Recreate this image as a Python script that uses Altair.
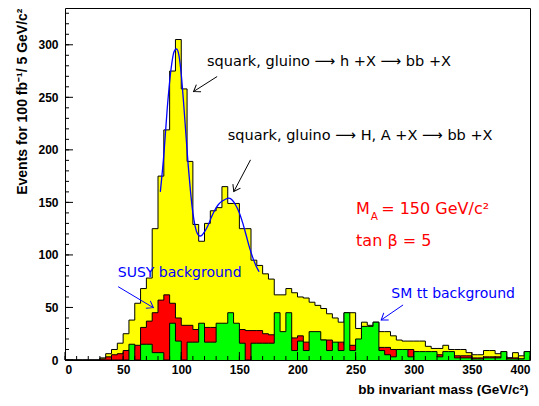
import altair as alt
import pandas as pd

# ---------------- data ----------------
bin_lo = list(range(0, 400, 5))

total = [0, 0, 0, 0, 0, 0, 2, 6, 10, 16,
         25, 38, 54, 68, 78, 125, 175, 219, 275, 305,
         258, 189, 129, 113, 130, 142, 145, 165, 149, 149,
         125, 125, 95, 90, 82, 77, 62, 62, 68, 64,
         60, 59, 55, 52, 49, 44, 40, 36, 45, 45,
         30, 36, 33, 36, 27, 27, 23, 19, 18, 18,
         18, 18, 13, 11, 11, 14, 10, 10, 10, 7,
         5, 5, 9, 9, 6, 8, 2, 7, 4, 8]

susy = [0, 0, 0, 0, 0, 0, 1, 3, 5, 6,
        9, 10, 14, 31, 37, 45, 57, 62, 54, 40,
        33, 33, 29, 31, 31, 31, 30, 30, 29, 28,
        29, 28, 28, 28, 25, 24, 24, 22, 22, 21,
        23, 17, 17, 16, 19, 19, 16, 17, 14, 14,
        14, 12, 12, 10, 12, 12, 10, 9, 9, 10,
        6, 5, 5, 5, 5, 5, 4, 4, 4, 4,
        2, 2, 3, 3, 3, 2, 2, 2, 1, 1]

smtt = [0, 0, 0, 0, 0, 0, 0, 0, 0, 0,
        0, 15, 0, 15, 15, 7, 7, 0, 35, 18,
        0, 17, 17, 35, 17, 17, 35, 35, 45, 35,
        16, 0, 16, 16, 16, 16, 45, 27, 45, 9,
        18, 9, 27, 27, 19, 9, 17, 9, 45, 9,
        20, 32, 32, 36, 9, 5, 3, 10, 10, 3,
        8, 8, 8, 8, 3, 8, 8, 2, 2, 2,
        1, 1, 2, 2, 2, 8, 1, 1, 1, 8]

fit_mass = [82, 85, 88, 91, 94, 96, 98, 100, 102, 104, 106, 108, 110, 112, 114,
            116, 118, 120, 123, 126, 129, 132, 135, 138, 141, 144, 147, 150,
            153, 156, 159, 162, 165, 167]
fit_val = [160, 195, 240, 275, 294, 296, 290, 272, 245, 215, 185, 160, 140, 127,
           120, 118, 119, 122, 128, 136, 143, 148, 151, 153, 154, 152, 147, 140,
           130, 118, 106, 96, 88, 84]

y_ticks_major = [0, 50, 100, 150, 200, 250, 300]
y_ticks_minor = list(range(0, 340, 10))
x_ticks_major = [0, 50, 100, 150, 200, 250, 300, 350, 400]
x_ticks_minor = list(range(0, 401, 10))

# annotations (left edge / baseline positions in data units)
ann_text = ["squark, gluino \u27f6 h +X \u27f6 bb +X",
            "squark, gluino \u27f6 H, A +X \u27f6 bb +X"]
ann_m = [122.2, 140.0]
ann_v = [280.1, 209.4]

bg_text = ["SUSY background", "SM tt background"]
bg_m = [45.4, 280.7]
bg_v = [79.0, 59.0]

arrow_tail_m = [130.9, 159.6, 45.7, 290.8]
arrow_tail_v = [269.8, 190.5, 69.8, 52.4]
arrow_tip_m = [110.6, 145.2, 76.0, 272.0]
arrow_tip_v = [255.5, 160.3, 49.8, 38.1]
arrow_color = ["black", "black", "#0000ff", "#0000ff"]
arrow_angle = [147, 118, 31, 145]

FONT = "Liberation Sans"
TFONT = "DejaVu Sans"

# ---------------- scales / helpers ----------------
xscale = alt.Scale(domain=[0, 400], nice=False, zero=False)
yscale = alt.Scale(domain=[0, 335], nice=False)

xaxis = alt.Axis(values=x_ticks_major, ticks=False, tickSize=0, domain=False, grid=False,
                 labelFont=FONT, labelFontWeight="bold", labelFontSize=12, labelColor="black",
                 labelPadding=4, format="d", labelFlush=True,
                 title="bb invariant mass (GeV/c\u00b2)", titleFont=FONT, titleFontWeight="bold",
                 titleFontSize=13.5, titleColor="black", titleAnchor="end", titleAlign="right",
                 titleX=463, titleY=33, titleBaseline="alphabetic")
yaxis = alt.Axis(values=y_ticks_major, ticks=False, tickSize=0, domain=False, grid=False,
                 labelFont=FONT, labelFontWeight="bold", labelFontSize=12, labelColor="black",
                 labelPadding=7, format="d",
                 title="Events for 100 fb\u207b\u00b9/ 5 GeV/c\u00b2", titleFont=FONT,
                 titleFontWeight="bold", titleFontSize=14, titleColor="black",
                 titleAngle=270, titleAlign="right", titleBaseline="middle",
                 titleX=-43, titleY=0)


def X(field="m"):
    return alt.X(f"{field}:Q", scale=xscale, axis=xaxis)


def Y(field="v"):
    return alt.Y(f"{field}:Q", scale=yscale, axis=yaxis)


def steps(vals):
    return pd.DataFrame({"m": bin_lo + [400], "v": vals + [vals[-1]]})


def hist(vals, color):
    df = steps(vals)
    area = alt.Chart(df).mark_area(interpolate="step-after", color=color, opacity=1).encode(
        x=X(), y=Y())
    line = alt.Chart(df).mark_line(interpolate="step-after", color="black", strokeWidth=1).encode(
        x=X(), y=Y())
    return [area, line]


layers = []
layers += hist(total, "#ffff00")
layers += hist(susy, "#ff0000")
layers += hist(smtt, "#00ff00")

fit_df = pd.DataFrame({"m": fit_mass, "v": fit_val})
layers.append(alt.Chart(fit_df).mark_line(interpolate="monotone", color="#0000ff",
                                          strokeWidth=1.3).encode(x=X(), y=Y()))

# tick marks (inside frame)
layers.append(alt.Chart(pd.DataFrame({"v": y_ticks_major})).mark_rule(color="black").encode(
    y=Y(), x=alt.value(0), x2=alt.value(8)))
layers.append(alt.Chart(pd.DataFrame({"v": y_ticks_minor})).mark_rule(color="black").encode(
    y=Y(), x=alt.value(0), x2=alt.value(4)))
layers.append(alt.Chart(pd.DataFrame({"m": x_ticks_major})).mark_rule(color="black").encode(
    x=X(), y=alt.value(352), y2=alt.value(344)))
layers.append(alt.Chart(pd.DataFrame({"m": x_ticks_minor})).mark_rule(color="black").encode(
    x=X(), y=alt.value(352), y2=alt.value(348)))

# annotation texts
layers.append(alt.Chart(pd.DataFrame({"m": ann_m, "v": ann_v, "t": ann_text})).mark_text(
    align="left", baseline="alphabetic", font=TFONT, fontSize=14.5, color="black").encode(
    x=X(), y=Y(), text="t:N"))
layers.append(alt.Chart(pd.DataFrame({"m": bg_m, "v": bg_v, "t": bg_text})).mark_text(
    align="left", baseline="alphabetic", font=TFONT, fontSize=14, color="#0000ff").encode(
    x=X(), y=Y(), text="t:N"))

# red parameter text
layers.append(alt.Chart(pd.DataFrame({"m": [250.4, 250.4], "v": [139.0, 108.5],
                                      "t": ["M", "tan \u03b2 = 5"]})).mark_text(
    align="left", baseline="alphabetic", font=TFONT, fontSize=16, color="#ff0000").encode(
    x=X(), y=Y(), text="t:N"))
layers.append(alt.Chart(pd.DataFrame({"m": [263.0], "v": [133.5], "t": ["A"]})).mark_text(
    align="left", baseline="alphabetic", font=TFONT, fontSize=10.5, color="#ff0000").encode(
    x=X(), y=Y(), text="t:N"))
layers.append(alt.Chart(pd.DataFrame({"m": [272.0], "v": [139.0],
                                      "t": ["= 150 GeV/c\u00b2"]})).mark_text(
    align="left", baseline="alphabetic", font=TFONT, fontSize=16, color="#ff0000").encode(
    x=X(), y=Y(), text="t:N"))

# arrows
arr_df = pd.DataFrame({"m": arrow_tail_m, "v": arrow_tail_v, "m2": arrow_tip_m,
                       "v2": arrow_tip_v, "c": arrow_color, "a": arrow_angle})
layers.append(alt.Chart(arr_df).mark_rule(strokeWidth=1).encode(
    x=X(), y=Y(), x2="m2:Q", y2="v2:Q", color=alt.Color("c:N", scale=None)))
layers.append(alt.Chart(arr_df).mark_point(
    shape="M-1,-0.7L0,0L-1,0.7", filled=False, size=150, strokeWidth=1, opacity=1).encode(
    x=X("m2"), y=Y("v2"), color=alt.Color("c:N", scale=None), angle=alt.Angle("a:Q", scale=None)))

chart = alt.layer(*layers).properties(
    width=465, height=352,
    autosize=alt.AutoSizeParams(type="none"),
    padding={"left": 57, "top": 0, "right": 1, "bottom": 36},
    background="white",
).configure_view(stroke="black", strokeWidth=1)

chart.save("out.html", embed_options={"renderer": "svg", "actions": False})
